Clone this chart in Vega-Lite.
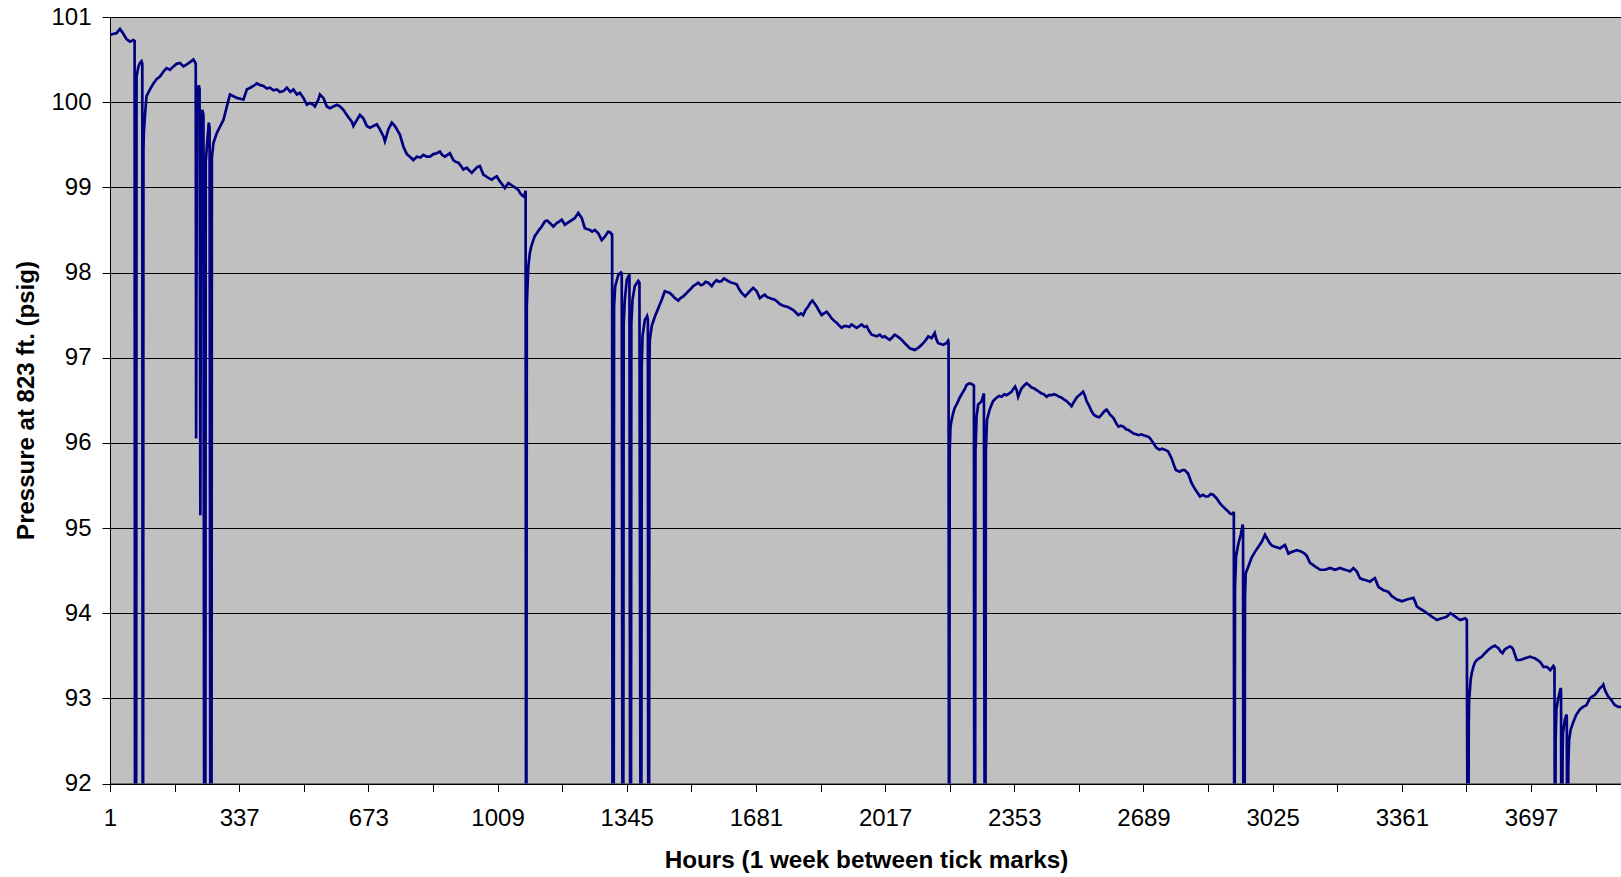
{
  "$schema": "https://vega.github.io/schema/vega-lite/v6.json",
  "width": 1511,
  "height": 766.5,
  "autosize": {"type": "none"},
  "padding": {"left": 110, "top": 17, "right": 0, "bottom": 94},
  "background": "white",
  "config": {
    "font": "Liberation Sans",
    "view": {"fill": "#C0C0C0", "stroke": null}
  },
  "data": {
    "values": [
      {"h":1,"p":100.79},{"h":9,"p":100.80},{"h":18,"p":100.81},{"h":27,"p":100.86},{"h":36,"p":100.80},{"h":44,"p":100.74},{"h":53,"p":100.71},{"h":62,"p":100.73},{"h":65,"p":100.72},
      {"h":66,"p":91},{"h":69,"p":91},{"h":70,"p":100.30},{"h":75,"p":100.42},{"h":79,"p":100.46},{"h":83,"p":100.48},{"h":85,"p":100.45},
      {"h":86,"p":91},{"h":87,"p":91},{"h":88,"p":99.45},{"h":89,"p":99.64},{"h":92,"p":99.85},{"h":96,"p":100.07},{"h":105,"p":100.15},{"h":114,"p":100.22},{"h":122,"p":100.27},{"h":131,"p":100.30},{"h":140,"p":100.36},{"h":148,"p":100.40},{"h":157,"p":100.38},{"h":166,"p":100.42},{"h":174,"p":100.45},{"h":183,"p":100.46},{"h":192,"p":100.42},{"h":200,"p":100.44},{"h":209,"p":100.47},{"h":218,"p":100.50},{"h":222,"p":100.47},{"h":224,"p":100.45},
      {"h":225,"p":96.05},{"h":227,"p":99.9},{"h":228,"p":100.1},{"h":232,"p":100.2},{"h":234,"p":100.15},{"h":236,"p":95.15},{"h":238,"p":99.8},{"h":241,"p":99.91},{"h":244,"p":99.85},
      {"h":246,"p":91},{"h":249,"p":91},{"h":250,"p":99.3},{"h":253,"p":99.48},{"h":258,"p":99.76},{"h":260,"p":99.7},
      {"h":262,"p":91},{"h":265,"p":91},{"h":266,"p":99.35},{"h":270,"p":99.52},{"h":279,"p":99.64},{"h":288,"p":99.72},{"h":296,"p":99.79},{"h":305,"p":99.95},{"h":313,"p":100.09},{"h":322,"p":100.07},{"h":331,"p":100.05},{"h":340,"p":100.04},{"h":348,"p":100.03},{"h":357,"p":100.15},{"h":366,"p":100.17},{"h":374,"p":100.19},{"h":383,"p":100.22},{"h":392,"p":100.20},{"h":400,"p":100.19},{"h":409,"p":100.16},{"h":417,"p":100.17},{"h":426,"p":100.14},{"h":435,"p":100.15},{"h":443,"p":100.12},{"h":452,"p":100.13},{"h":461,"p":100.17},{"h":470,"p":100.12},{"h":478,"p":100.15},{"h":487,"p":100.09},{"h":495,"p":100.11},{"h":504,"p":100.05},{"h":513,"p":99.97},{"h":521,"p":99.99},{"h":530,"p":99.97},{"h":534,"p":99.95},{"h":543,"p":100.03},{"h":547,"p":100.09},{"h":556,"p":100.05},{"h":565,"p":99.95},{"h":573,"p":99.93},{"h":582,"p":99.95},{"h":591,"p":99.97},{"h":599,"p":99.95},{"h":608,"p":99.91},{"h":617,"p":99.85},{"h":625,"p":99.80},{"h":630,"p":99.77},{"h":634,"p":99.72},{"h":643,"p":99.79},{"h":651,"p":99.85},{"h":660,"p":99.81},{"h":669,"p":99.72},{"h":677,"p":99.70},{"h":686,"p":99.72},{"h":695,"p":99.74},{"h":703,"p":99.68},{"h":712,"p":99.60},{"h":716,"p":99.54},{"h":725,"p":99.68},{"h":734,"p":99.76},{"h":742,"p":99.72},{"h":755,"p":99.62},{"h":764,"p":99.48},{"h":773,"p":99.39},{"h":781,"p":99.36},{"h":790,"p":99.32},{"h":799,"p":99.36},{"h":808,"p":99.35},{"h":816,"p":99.38},{"h":825,"p":99.36},{"h":833,"p":99.36},{"h":842,"p":99.39},{"h":851,"p":99.40},{"h":859,"p":99.42},{"h":865,"p":99.38},{"h":872,"p":99.36},{"h":885,"p":99.40},{"h":894,"p":99.32},{"h":900,"p":99.30},{"h":907,"p":99.29},{"h":914,"p":99.25},{"h":920,"p":99.21},{"h":929,"p":99.23},{"h":935,"p":99.20},{"h":942,"p":99.17},{"h":950,"p":99.21},{"h":957,"p":99.24},{"h":963,"p":99.25},{"h":972,"p":99.15},{"h":979,"p":99.13},{"h":985,"p":99.11},{"h":994,"p":99.09},{"h":1000,"p":99.11},{"h":1007,"p":99.13},{"h":1015,"p":99.07},{"h":1022,"p":99.03},{"h":1028,"p":98.99},{"h":1037,"p":99.05},{"h":1044,"p":99.03},{"h":1050,"p":99.01},{"h":1057,"p":98.99},{"h":1063,"p":98.97},{"h":1068,"p":98.93},{"h":1072,"p":98.91},{"h":1078,"p":98.89},{"h":1082,"p":98.96},
      {"h":1083,"p":91},{"h":1084,"p":91},{"h":1085,"p":97.6},{"h":1087,"p":97.85},{"h":1089,"p":98.07},{"h":1093,"p":98.23},{"h":1097,"p":98.31},{"h":1102,"p":98.38},{"h":1106,"p":98.43},{"h":1111,"p":98.46},{"h":1117,"p":98.50},{"h":1124,"p":98.54},{"h":1132,"p":98.60},{"h":1138,"p":98.61},{"h":1145,"p":98.58},{"h":1154,"p":98.54},{"h":1163,"p":98.58},{"h":1170,"p":98.60},{"h":1176,"p":98.62},{"h":1184,"p":98.56},{"h":1190,"p":98.58},{"h":1197,"p":98.60},{"h":1204,"p":98.62},{"h":1210,"p":98.64},{"h":1219,"p":98.70},{"h":1228,"p":98.64},{"h":1236,"p":98.52},{"h":1242,"p":98.51},{"h":1249,"p":98.50},{"h":1255,"p":98.48},{"h":1262,"p":98.50},{"h":1271,"p":98.46},{"h":1280,"p":98.38},{"h":1288,"p":98.42},{"h":1297,"p":98.48},{"h":1303,"p":98.47},{"h":1306,"p":98.44},{"h":1307,"p":98.46},
      {"h":1308,"p":91},{"h":1311,"p":91},{"h":1312,"p":97.6},{"h":1315,"p":97.84},{"h":1323,"p":97.97},{"h":1330,"p":98.0},{"h":1332,"p":97.99},
      {"h":1334,"p":91},{"h":1336,"p":91},{"h":1337,"p":97.4},{"h":1340,"p":97.68},{"h":1345,"p":97.91},{"h":1352,"p":97.98},
      {"h":1354,"p":91},{"h":1356,"p":91},{"h":1357,"p":97.4},{"h":1360,"p":97.68},{"h":1366,"p":97.84},{"h":1375,"p":97.90},{"h":1378,"p":97.88},
      {"h":1381,"p":91},{"h":1383,"p":91},{"h":1384,"p":96.9},{"h":1386,"p":97.25},{"h":1392,"p":97.44},{"h":1398,"p":97.49},{"h":1400,"p":97.45},
      {"h":1401,"p":91},{"h":1403,"p":91},{"h":1404,"p":96.9},{"h":1405,"p":97.21},{"h":1410,"p":97.37},{"h":1418,"p":97.48},{"h":1427,"p":97.58},{"h":1436,"p":97.68},{"h":1444,"p":97.78},{"h":1450,"p":97.77},{"h":1457,"p":97.76},{"h":1464,"p":97.73},{"h":1470,"p":97.70},{"h":1479,"p":97.67},{"h":1485,"p":97.70},{"h":1492,"p":97.72},{"h":1499,"p":97.75},{"h":1505,"p":97.78},{"h":1512,"p":97.81},{"h":1518,"p":97.84},{"h":1525,"p":97.86},{"h":1531,"p":97.88},{"h":1538,"p":97.85},{"h":1544,"p":97.86},{"h":1550,"p":97.89},{"h":1557,"p":97.88},{"h":1566,"p":97.84},{"h":1572,"p":97.88},{"h":1579,"p":97.91},{"h":1585,"p":97.89},{"h":1592,"p":97.90},{"h":1598,"p":97.93},{"h":1605,"p":97.91},{"h":1612,"p":97.89},{"h":1618,"p":97.88},{"h":1625,"p":97.87},{"h":1631,"p":97.86},{"h":1638,"p":97.80},{"h":1644,"p":97.76},{"h":1653,"p":97.72},{"h":1659,"p":97.75},{"h":1665,"p":97.78},{"h":1674,"p":97.82},{"h":1683,"p":97.78},{"h":1691,"p":97.70},{"h":1697,"p":97.72},{"h":1704,"p":97.74},{"h":1710,"p":97.71},{"h":1717,"p":97.70},{"h":1723,"p":97.69},{"h":1730,"p":97.68},{"h":1736,"p":97.66},{"h":1743,"p":97.63},{"h":1752,"p":97.61},{"h":1761,"p":97.60},{"h":1770,"p":97.58},{"h":1778,"p":97.56},{"h":1785,"p":97.53},{"h":1791,"p":97.50},{"h":1798,"p":97.52},{"h":1804,"p":97.50},{"h":1810,"p":97.56},{"h":1817,"p":97.60},{"h":1822,"p":97.64},{"h":1828,"p":97.67},{"h":1833,"p":97.64},{"h":1839,"p":97.60},{"h":1845,"p":97.55},{"h":1852,"p":97.50},{"h":1858,"p":97.52},{"h":1865,"p":97.54},{"h":1872,"p":97.50},{"h":1878,"p":97.46},{"h":1885,"p":97.43},{"h":1891,"p":97.41},{"h":1897,"p":97.38},{"h":1904,"p":97.35},{"h":1910,"p":97.37},{"h":1917,"p":97.37},{"h":1924,"p":97.36},{"h":1930,"p":97.39},{"h":1936,"p":97.37},{"h":1943,"p":97.35},{"h":1950,"p":97.37},{"h":1956,"p":97.39},{"h":1963,"p":97.36},{"h":1969,"p":97.37},{"h":1976,"p":97.31},{"h":1982,"p":97.27},{"h":1989,"p":97.26},{"h":1995,"p":97.25},{"h":2003,"p":97.27},{"h":2010,"p":97.24},{"h":2016,"p":97.25},{"h":2022,"p":97.23},{"h":2029,"p":97.21},{"h":2036,"p":97.24},{"h":2042,"p":97.27},{"h":2049,"p":97.25},{"h":2055,"p":97.23},{"h":2062,"p":97.20},{"h":2068,"p":97.17},{"h":2075,"p":97.14},{"h":2081,"p":97.11},{"h":2088,"p":97.10},{"h":2094,"p":97.09},{"h":2101,"p":97.11},{"h":2107,"p":97.13},{"h":2114,"p":97.16},{"h":2120,"p":97.19},{"h":2125,"p":97.22},{"h":2129,"p":97.25},{"h":2134,"p":97.24},{"h":2138,"p":97.23},{"h":2142,"p":97.26},{"h":2146,"p":97.29},{"h":2150,"p":97.22},{"h":2155,"p":97.17},{"h":2162,"p":97.16},{"h":2168,"p":97.15},{"h":2172,"p":97.16},{"h":2176,"p":97.17},{"h":2181,"p":97.20},{"h":2182,"p":97.18},
      {"h":2183,"p":91},{"h":2184,"p":91},{"h":2185,"p":95.9},{"h":2187,"p":96.19},{"h":2190,"p":96.27},{"h":2194,"p":96.35},{"h":2198,"p":96.41},{"h":2203,"p":96.45},{"h":2207,"p":96.49},{"h":2211,"p":96.53},{"h":2216,"p":96.57},{"h":2220,"p":96.60},{"h":2225,"p":96.64},{"h":2229,"p":96.68},{"h":2233,"p":96.69},{"h":2238,"p":96.70},{"h":2242,"p":96.69},{"h":2246,"p":96.68},{"h":2248,"p":96.67},
      {"h":2249,"p":91},{"h":2251,"p":91},{"h":2252,"p":95.9},{"h":2255,"p":96.31},{"h":2259,"p":96.45},{"h":2264,"p":96.47},{"h":2268,"p":96.49},{"h":2272,"p":96.55},{"h":2274,"p":96.58},
      {"h":2276,"p":91},{"h":2278,"p":91},{"h":2279,"p":95.9},{"h":2282,"p":96.27},{"h":2286,"p":96.34},{"h":2289,"p":96.39},{"h":2294,"p":96.45},{"h":2298,"p":96.49},{"h":2302,"p":96.51},{"h":2307,"p":96.53},{"h":2313,"p":96.55},{"h":2320,"p":96.54},{"h":2327,"p":96.57},{"h":2333,"p":96.56},{"h":2340,"p":96.58},{"h":2346,"p":96.60},{"h":2350,"p":96.63},{"h":2355,"p":96.66},{"h":2359,"p":96.62},{"h":2363,"p":96.54},{"h":2368,"p":96.60},{"h":2372,"p":96.64},{"h":2378,"p":96.67},{"h":2385,"p":96.70},{"h":2391,"p":96.68},{"h":2398,"p":96.65},{"h":2404,"p":96.64},{"h":2411,"p":96.62},{"h":2417,"p":96.60},{"h":2424,"p":96.58},{"h":2430,"p":96.57},{"h":2437,"p":96.54},{"h":2443,"p":96.56},{"h":2450,"p":96.56},{"h":2456,"p":96.57},{"h":2463,"p":96.56},{"h":2470,"p":96.54},{"h":2476,"p":96.53},{"h":2482,"p":96.51},{"h":2489,"p":96.49},{"h":2496,"p":96.46},{"h":2502,"p":96.43},{"h":2508,"p":96.48},{"h":2515,"p":96.53},{"h":2522,"p":96.56},{"h":2532,"p":96.60},{"h":2537,"p":96.55},{"h":2541,"p":96.49},{"h":2548,"p":96.43},{"h":2554,"p":96.37},{"h":2560,"p":96.33},{"h":2567,"p":96.31},{"h":2574,"p":96.30},{"h":2580,"p":96.33},{"h":2587,"p":96.37},{"h":2593,"p":96.39},{"h":2598,"p":96.36},{"h":2602,"p":96.33},{"h":2607,"p":96.31},{"h":2611,"p":96.29},{"h":2618,"p":96.23},{"h":2624,"p":96.19},{"h":2630,"p":96.20},{"h":2637,"p":96.19},{"h":2644,"p":96.16},{"h":2650,"p":96.15},{"h":2657,"p":96.13},{"h":2663,"p":96.11},{"h":2670,"p":96.10},{"h":2676,"p":96.09},{"h":2683,"p":96.10},{"h":2689,"p":96.09},{"h":2696,"p":96.08},{"h":2702,"p":96.07},{"h":2705,"p":96.06},{"h":2714,"p":96.00},{"h":2723,"p":95.94},{"h":2731,"p":95.92},{"h":2737,"p":95.93},{"h":2744,"p":95.92},{"h":2753,"p":95.90},{"h":2762,"p":95.82},{"h":2768,"p":95.74},{"h":2773,"p":95.68},{"h":2783,"p":95.66},{"h":2790,"p":95.68},{"h":2796,"p":95.68},{"h":2805,"p":95.64},{"h":2814,"p":95.53},{"h":2820,"p":95.48},{"h":2827,"p":95.43},{"h":2836,"p":95.37},{"h":2844,"p":95.39},{"h":2850,"p":95.37},{"h":2857,"p":95.37},{"h":2864,"p":95.40},{"h":2870,"p":95.39},{"h":2879,"p":95.35},{"h":2888,"p":95.29},{"h":2894,"p":95.26},{"h":2901,"p":95.23},{"h":2908,"p":95.20},{"h":2914,"p":95.17},{"h":2921,"p":95.16},{"h":2924,"p":95.19},
      {"h":2925,"p":91},{"h":2926,"p":91},{"h":2927,"p":94.3},{"h":2930,"p":94.67},{"h":2936,"p":94.82},{"h":2942,"p":94.92},{"h":2947,"p":95.04},{"h":2948,"p":95.0},
      {"h":2949,"p":91},{"h":2952,"p":91},{"h":2953,"p":94.2},{"h":2955,"p":94.47},{"h":2962,"p":94.55},{"h":2970,"p":94.65},{"h":2979,"p":94.72},{"h":2988,"p":94.78},{"h":2997,"p":94.84},{"h":3005,"p":94.92},{"h":3010,"p":94.88},{"h":3018,"p":94.82},{"h":3024,"p":94.79},{"h":3031,"p":94.78},{"h":3038,"p":94.77},{"h":3044,"p":94.76},{"h":3050,"p":94.78},{"h":3057,"p":94.80},{"h":3066,"p":94.70},{"h":3075,"p":94.72},{"h":3082,"p":94.73},{"h":3088,"p":94.74},{"h":3095,"p":94.73},{"h":3101,"p":94.72},{"h":3108,"p":94.70},{"h":3114,"p":94.67},{"h":3122,"p":94.59},{"h":3129,"p":94.57},{"h":3135,"p":94.55},{"h":3142,"p":94.53},{"h":3148,"p":94.51},{"h":3155,"p":94.51},{"h":3161,"p":94.51},{"h":3168,"p":94.52},{"h":3174,"p":94.53},{"h":3181,"p":94.52},{"h":3187,"p":94.51},{"h":3194,"p":94.52},{"h":3200,"p":94.53},{"h":3206,"p":94.52},{"h":3213,"p":94.51},{"h":3220,"p":94.50},{"h":3226,"p":94.49},{"h":3235,"p":94.53},{"h":3244,"p":94.49},{"h":3252,"p":94.41},{"h":3258,"p":94.40},{"h":3265,"p":94.39},{"h":3272,"p":94.38},{"h":3278,"p":94.37},{"h":3284,"p":94.39},{"h":3291,"p":94.41},{"h":3300,"p":94.31},{"h":3306,"p":94.29},{"h":3313,"p":94.27},{"h":3320,"p":94.26},{"h":3326,"p":94.25},{"h":3335,"p":94.20},{"h":3342,"p":94.18},{"h":3348,"p":94.16},{"h":3355,"p":94.15},{"h":3361,"p":94.14},{"h":3368,"p":94.15},{"h":3374,"p":94.16},{"h":3382,"p":94.17},{"h":3391,"p":94.18},{"h":3396,"p":94.13},{"h":3400,"p":94.08},{"h":3406,"p":94.06},{"h":3413,"p":94.04},{"h":3420,"p":94.02},{"h":3426,"p":94.00},{"h":3433,"p":93.98},{"h":3439,"p":93.96},{"h":3446,"p":93.94},{"h":3452,"p":93.92},{"h":3458,"p":93.93},{"h":3465,"p":93.94},{"h":3472,"p":93.95},{"h":3478,"p":93.96},{"h":3483,"p":93.98},{"h":3487,"p":94.00},{"h":3494,"p":93.98},{"h":3500,"p":93.96},{"h":3506,"p":93.94},{"h":3513,"p":93.92},{"h":3520,"p":93.93},{"h":3526,"p":93.94},{"h":3530,"p":93.92},
      {"h":3532,"p":91},{"h":3534,"p":91},{"h":3535,"p":92.7},{"h":3536,"p":92.98},{"h":3540,"p":93.22},{"h":3543,"p":93.30},{"h":3547,"p":93.37},{"h":3551,"p":93.42},{"h":3556,"p":93.45},{"h":3562,"p":93.47},{"h":3569,"p":93.49},{"h":3577,"p":93.53},{"h":3586,"p":93.57},{"h":3595,"p":93.60},{"h":3603,"p":93.62},{"h":3608,"p":93.60},{"h":3612,"p":93.59},{"h":3618,"p":93.55},{"h":3623,"p":93.53},{"h":3628,"p":93.57},{"h":3634,"p":93.59},{"h":3642,"p":93.61},{"h":3647,"p":93.60},{"h":3651,"p":93.57},{"h":3656,"p":93.50},{"h":3660,"p":93.45},{"h":3669,"p":93.45},{"h":3675,"p":93.46},{"h":3681,"p":93.47},{"h":3688,"p":93.48},{"h":3694,"p":93.49},{"h":3700,"p":93.48},{"h":3707,"p":93.47},{"h":3714,"p":93.45},{"h":3720,"p":93.43},{"h":3725,"p":93.40},{"h":3729,"p":93.37},{"h":3738,"p":93.37},{"h":3743,"p":93.35},{"h":3747,"p":93.33},{"h":3752,"p":93.36},{"h":3755,"p":93.38},{"h":3758,"p":93.36},
      {"h":3759,"p":91},{"h":3760,"p":91},{"h":3761,"p":92.5},{"h":3763,"p":92.87},{"h":3767,"p":92.98},{"h":3771,"p":93.06},{"h":3774,"p":93.12},{"h":3775,"p":93.10},
      {"h":3776,"p":91},{"h":3778,"p":91},{"h":3779,"p":92.3},{"h":3780,"p":92.59},{"h":3785,"p":92.75},{"h":3789,"p":92.81},{"h":3790,"p":92.78},
      {"h":3791,"p":91},{"h":3793,"p":91},{"h":3794,"p":92.2},{"h":3796,"p":92.51},{"h":3800,"p":92.63},{"h":3806,"p":92.71},{"h":3815,"p":92.81},{"h":3824,"p":92.87},{"h":3832,"p":92.90},{"h":3841,"p":92.92},{"h":3850,"p":93.00},{"h":3856,"p":93.02},{"h":3863,"p":93.04},{"h":3870,"p":93.08},{"h":3876,"p":93.12},{"h":3882,"p":93.14},{"h":3885,"p":93.16},{"h":3889,"p":93.10},{"h":3893,"p":93.06},{"h":3898,"p":93.02},{"h":3906,"p":92.98},{"h":3910,"p":92.95},{"h":3915,"p":92.92},{"h":3920,"p":92.91},{"h":3924,"p":92.90},{"h":3931,"p":92.90}
    ]
  },
  "mark": {"type": "line", "color": "#000080", "strokeWidth": 2.7, "clip": true, "strokeJoin": "miter"},
  "encoding": {
    "x": {
      "field": "h",
      "type": "quantitative",
      "scale": {"domain": [1, 3931], "nice": false, "zero": false},
      "axis": {
        "title": "Hours (1 week between tick marks)",
        "values": [1,169,337,505,673,841,1009,1177,1345,1513,1681,1849,2017,2185,2353,2521,2689,2857,3025,3193,3361,3529,3697,3865],
        "format": "d",
        "labelExpr": "((datum.value - 1) % 336 == 0) ? datum.label : ''",
        "grid": false,
        "domainColor": "#000000",
        "domainWidth": 1,
        "tickColor": "#000000",
        "tickSize": 8,
        "tickWidth": 1,
        "labelColor": "#000000",
        "labelFont": "Liberation Sans",
        "labelFontSize": 24,
        "labelPadding": 15,
        "labelFlush": false,
        "labelOverlap": false,
        "titleFont": "Liberation Sans",
        "titleFontSize": 24.3,
        "titleFontWeight": "bold",
        "titleColor": "#000000",
        "titleX": 756,
        "titleY": 77,
        "titleBaseline": "middle",
        "titleAlign": "center"
      }
    },
    "y": {
      "field": "p",
      "type": "quantitative",
      "scale": {"domain": [92, 101], "nice": false, "zero": false},
      "axis": {
        "title": "Pressure at 823 ft. (psig)",
        "values": [92,93,94,95,96,97,98,99,100,101],
        "format": "d",
        "grid": true,
        "gridColor": "#000000",
        "gridOpacity": 1,
        "gridWidth": 1,
        "domainColor": "#000000",
        "domainWidth": 1,
        "tickColor": "#000000",
        "tickSize": 8,
        "tickWidth": 1,
        "labelColor": "#000000",
        "labelFont": "Liberation Sans",
        "labelFontSize": 24,
        "labelPadding": 11,
        "titleFont": "Liberation Sans",
        "titleFontSize": 24,
        "titleFontWeight": "bold",
        "titleColor": "#000000",
        "titleAngle": -90,
        "titleX": -84,
        "titleY": 383,
        "titleBaseline": "middle",
        "titleAlign": "center"
      }
    }
  }
}
